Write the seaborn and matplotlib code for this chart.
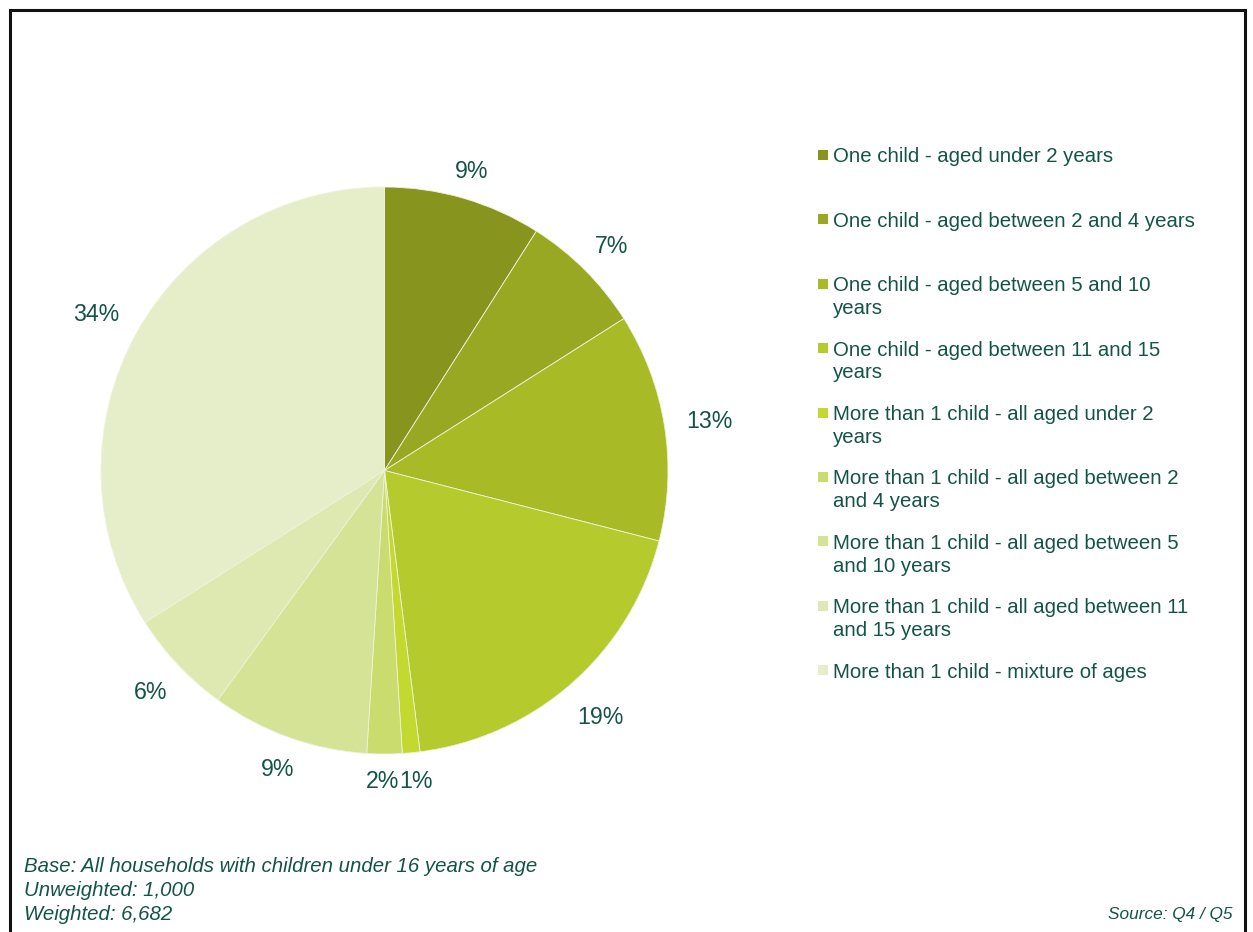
import numpy as np
import matplotlib
matplotlib.use("Agg")
import matplotlib.pyplot as plt
from matplotlib.lines import Line2D
from matplotlib.patches import Rectangle
import seaborn as sns

# Household composition shares (%)
categories = [
    "One child - aged under 2 years",
    "One child - aged between 2 and 4 years",
    "One child - aged between 5 and 10\nyears",
    "One child - aged between 11 and 15\nyears",
    "More than 1 child - all aged under 2\nyears",
    "More than 1 child - all aged between 2\nand 4 years",
    "More than 1 child - all aged between 5\nand 10 years",
    "More than 1 child - all aged between 11\nand 15 years",
    "More than 1 child - mixture of ages",
]
shares = [9, 7, 13, 19, 1, 2, 9, 6, 34]

palette = ["#87951f", "#99a823", "#a8ba26", "#b5ca2c", "#c4d92f",
           "#cbdc6e", "#d5e396", "#dee8b1", "#e6eec9"]

footnotes = [
    "Base: All households with children under 16 years of age",
    "Unweighted: 1,000",
    "Weighted: 6,682",
]
source_note = "Source: Q4 / Q5"

sns.set_theme(style="white")
plt.rcParams["font.family"] = ["Liberation Sans", "DejaVu Sans"]

TEXT = "#135446"
W, H = 1253, 932
fig = plt.figure(figsize=(W / 100, H / 100), dpi=100)
fig.patch.set_facecolor("white")

# Pie axes: circle centred at (384.5, 470.5) px with radius 283.5 px
R_PX = 283.5
LIM = 1.3
cx, cy = 384.5, H - 470.5
side = R_PX * LIM
ax = fig.add_axes([(cx - side) / W, (cy - side) / H, 2 * side / W, 2 * side / H])

wedges, _, autotexts = ax.pie(
    shares,
    colors=palette,
    startangle=90,
    counterclock=False,
    autopct="%.0f%%",
    pctdistance=1.13,
    wedgeprops=dict(edgecolor="#eef2dc", linewidth=0.6),
    textprops=dict(color=TEXT, fontsize=16.7),
)
ax.set_xlim(-LIM, LIM)
ax.set_ylim(-LIM, LIM)
ax.set_aspect("equal")
ax.axis("off")

# Push each percentage just outside the rim, allowing for its box size
fig.canvas.draw()
renderer = fig.canvas.get_renderer()
gap = 13.0
boxes = []
for w, t in zip(wedges, autotexts):
    ang = np.deg2rad((w.theta1 + w.theta2) / 2)
    bb = t.get_window_extent(renderer)
    half_w, half_h = bb.width / 2, bb.height / 2
    extra = gap + abs(np.cos(ang)) * half_w * 1.35 + abs(np.sin(ang)) * half_h
    r = 1 + extra / R_PX
    x, y = r * np.cos(ang), r * np.sin(ang)
    t.set_position((x, y))
    t.set_ha("center")
    t.set_va("center_baseline")
    boxes.append([x, y, half_w / R_PX, half_h / R_PX])

# Nudge neighbouring labels apart horizontally where they collide
for i in range(len(boxes) - 1):
    a, b = boxes[i], boxes[i + 1]
    if abs(a[1] - b[1]) < (a[3] + b[3]):
        overlap = (a[2] + b[2]) - abs(a[0] - b[0])
        if overlap > 0:
            sgn = 1 if a[0] > b[0] else -1
            a[0] += sgn * overlap / 2
            b[0] -= sgn * overlap / 2
for t, (x, y, _, _) in zip(autotexts, boxes):
    t.set_position((x, y))

# Legend: square swatch beside the first line of each wrapped label
LEG_X_SWATCH = 818
LEG_X_TEXT = 833
first_center = 155
step = 64.4
line_step = 23
sw = 10
for i, (lab, col) in enumerate(zip(categories, palette)):
    yc = first_center + step * i
    fig.patches.append(Rectangle((LEG_X_SWATCH / W, (H - yc - sw / 2) / H),
                                 sw / W, sw / H, transform=fig.transFigure,
                                 facecolor=col, edgecolor="none"))
    for k, part in enumerate(lab.split("\n")):
        fig.text(LEG_X_TEXT / W, (H - (yc + 7.3 + line_step * k)) / H, part,
                 ha="left", va="baseline", fontsize=14.7, color=TEXT)

# Footnotes
for j, line in enumerate(footnotes):
    fig.text(24 / W, (H - (872.3 + 24 * j)) / H, line, ha="left",
             va="baseline", fontsize=14.7, style="italic", color=TEXT)
fig.text(1232 / W, (H - 919.5) / H, source_note, ha="right", va="baseline",
         fontsize=12.4, style="italic", color=TEXT)

# Frame around the slide (open at the bottom edge)
lw = 2.2
fx0, fx1, fy1 = 9.5 / W, 1244.5 / W, (H - 9.5) / H
for xs, ys in [([fx0, fx0], [-0.02, fy1]), ([fx0, fx1], [fy1, fy1]),
               ([fx1, fx1], [fy1, -0.02])]:
    fig.lines.append(Line2D(xs, ys, transform=fig.transFigure,
                            color="#111111", linewidth=lw,
                            solid_capstyle="projecting"))

fig.savefig("out.png", dpi=100)
